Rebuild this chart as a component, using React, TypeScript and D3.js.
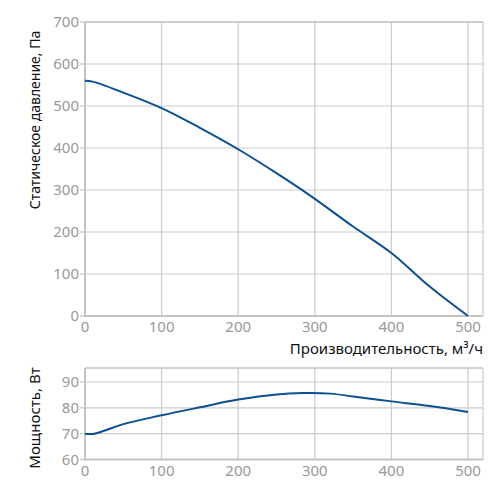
import React from "react";
import * as d3 from "d3";

const flowTicks = [0, 100, 200, 300, 400, 500];
const pressureTicks = [0, 100, 200, 300, 400, 500, 600, 700];
const powerTicks = [60, 70, 80, 90];

const pressureFlow = [0, 10, 50, 100, 150, 200, 250, 300, 350, 400, 450, 500];
const pressureValues = [560, 558, 532, 495, 448, 397, 340, 279, 213, 150, 70, 0];

const powerFlow = [0, 12, 25, 50, 100, 150, 200, 250, 285, 320, 350, 400, 450, 500];
const powerValues = [70, 70, 71.1, 73.7, 77.1, 80.2, 83.2, 85.2, 85.7, 85.5, 84.4, 82.5, 80.7, 78.4];

const W = 501, H = 495;
const L = 85, R = 483;
const gridColor = "#cccccc";
const tickColor = "#999999";
const lineColor = "#0b4f94";
const font = "'Noto Sans', 'Open Sans', sans-serif";

export default function App() {
  const x = d3.scaleLinear().domain([0, 500]).range([L, 468]);
  const yP = d3.scaleLinear().domain([0, 700]).range([316, 22]);
  const yW = d3.scaleLinear().domain([60, 90]).range([459.5, 382]);
  const topW = 368;

  const lineP = d3.line<number>().x((_, i) => x(pressureFlow[i])).y((d) => yP(d)).curve(d3.curveCatmullRom.alpha(0.5));
  const lineW = d3.line<number>().x((_, i) => x(powerFlow[i])).y((d) => yW(d)).curve(d3.curveCatmullRom.alpha(0.5));

  return (
    <svg width={W} height={H} style={{ position: "absolute", left: 0, top: 0 }}>
      <rect width={W} height={H} fill="#fff" />
      {/* top chart */}
      <g>
        {pressureTicks.map((t) => (
          <line key={"pg" + t} x1={L} x2={R} y1={yP(t)} y2={yP(t)} stroke={gridColor} strokeWidth={1.2} />
        ))}
        {flowTicks.map((t) => (
          <line key={"px" + t} x1={x(t)} x2={x(t)} y1={yP(700)} y2={yP(0)} stroke={gridColor} strokeWidth={1.2} />
        ))}
        <line x1={R} x2={R} y1={yP(700)} y2={yP(0)} stroke={gridColor} strokeWidth={1.2} />
        <line x1={L} x2={L} y1={yP(700)} y2={yP(0) + 1} stroke="#c4c4c4" strokeWidth={2} />
        <line x1={L} x2={R} y1={yP(0)} y2={yP(0)} stroke="#c4c4c4" strokeWidth={2} />
        <line x1={L} x2={R} y1={yP(700)} y2={yP(700)} stroke="#c4c4c4" strokeWidth={1.5} />
        {pressureTicks.map((t) => (
          <g key={"pt" + t}>
            <line x1={L - 5} x2={L} y1={yP(t)} y2={yP(t)} stroke="#c4c4c4" strokeWidth={1.2} />
            <text x={L - 6} y={yP(t)} dy="0.35em" textAnchor="end" fontSize={15} fill={tickColor} fontFamily={font}>{t}</text>
          </g>
        ))}
        {flowTicks.map((t) => (
          <text key={"fx" + t} x={x(t)} y={332} textAnchor="middle" fontSize={15} fill={tickColor} fontFamily={font}>{t}</text>
        ))}
        <path d={lineP(pressureValues) || ""} fill="none" stroke={lineColor} strokeWidth={2} />
        <text x={R} y={354} textAnchor="end" fontSize={15} fill="#111" fontFamily={font}>Производительность, м³/ч</text>
        <text transform={`translate(40,120) rotate(-90)`} textAnchor="middle" fontSize={14} fill="#111" fontFamily={font}>Статическое давление, Па</text>
      </g>
      {/* bottom chart */}
      <g>
        {powerTicks.map((t) => (
          <line key={"wg" + t} x1={L} x2={R} y1={yW(t)} y2={yW(t)} stroke={gridColor} strokeWidth={1.2} />
        ))}
        {flowTicks.map((t) => (
          <line key={"wx" + t} x1={x(t)} x2={x(t)} y1={topW} y2={yW(60)} stroke={gridColor} strokeWidth={1.2} />
        ))}
        <line x1={R} x2={R} y1={topW} y2={yW(60)} stroke={gridColor} strokeWidth={1.2} />
        <line x1={L} x2={R} y1={topW} y2={topW} stroke="#c4c4c4" strokeWidth={1.5} />
        <line x1={L} x2={L} y1={topW} y2={yW(60) + 1} stroke="#c4c4c4" strokeWidth={2} />
        <line x1={L} x2={R} y1={yW(60)} y2={yW(60)} stroke="#c4c4c4" strokeWidth={2} />
        {powerTicks.map((t) => (
          <g key={"wt" + t}>
            <line x1={L - 5} x2={L} y1={yW(t)} y2={yW(t)} stroke="#c4c4c4" strokeWidth={1.2} />
            <text x={L - 6} y={yW(t)} dy="0.35em" textAnchor="end" fontSize={15} fill={tickColor} fontFamily={font}>{t}</text>
          </g>
        ))}
        {flowTicks.map((t) => (
          <text key={"wfx" + t} x={x(t)} y={476} textAnchor="middle" fontSize={15} fill={tickColor} fontFamily={font}>{t}</text>
        ))}
        <path d={lineW(powerValues) || ""} fill="none" stroke={lineColor} strokeWidth={2} />
        <text transform={`translate(40,418) rotate(-90)`} textAnchor="middle" fontSize={15} fill="#111" fontFamily={font}>Мощность, Вт</text>
      </g>
    </svg>
  );
}
